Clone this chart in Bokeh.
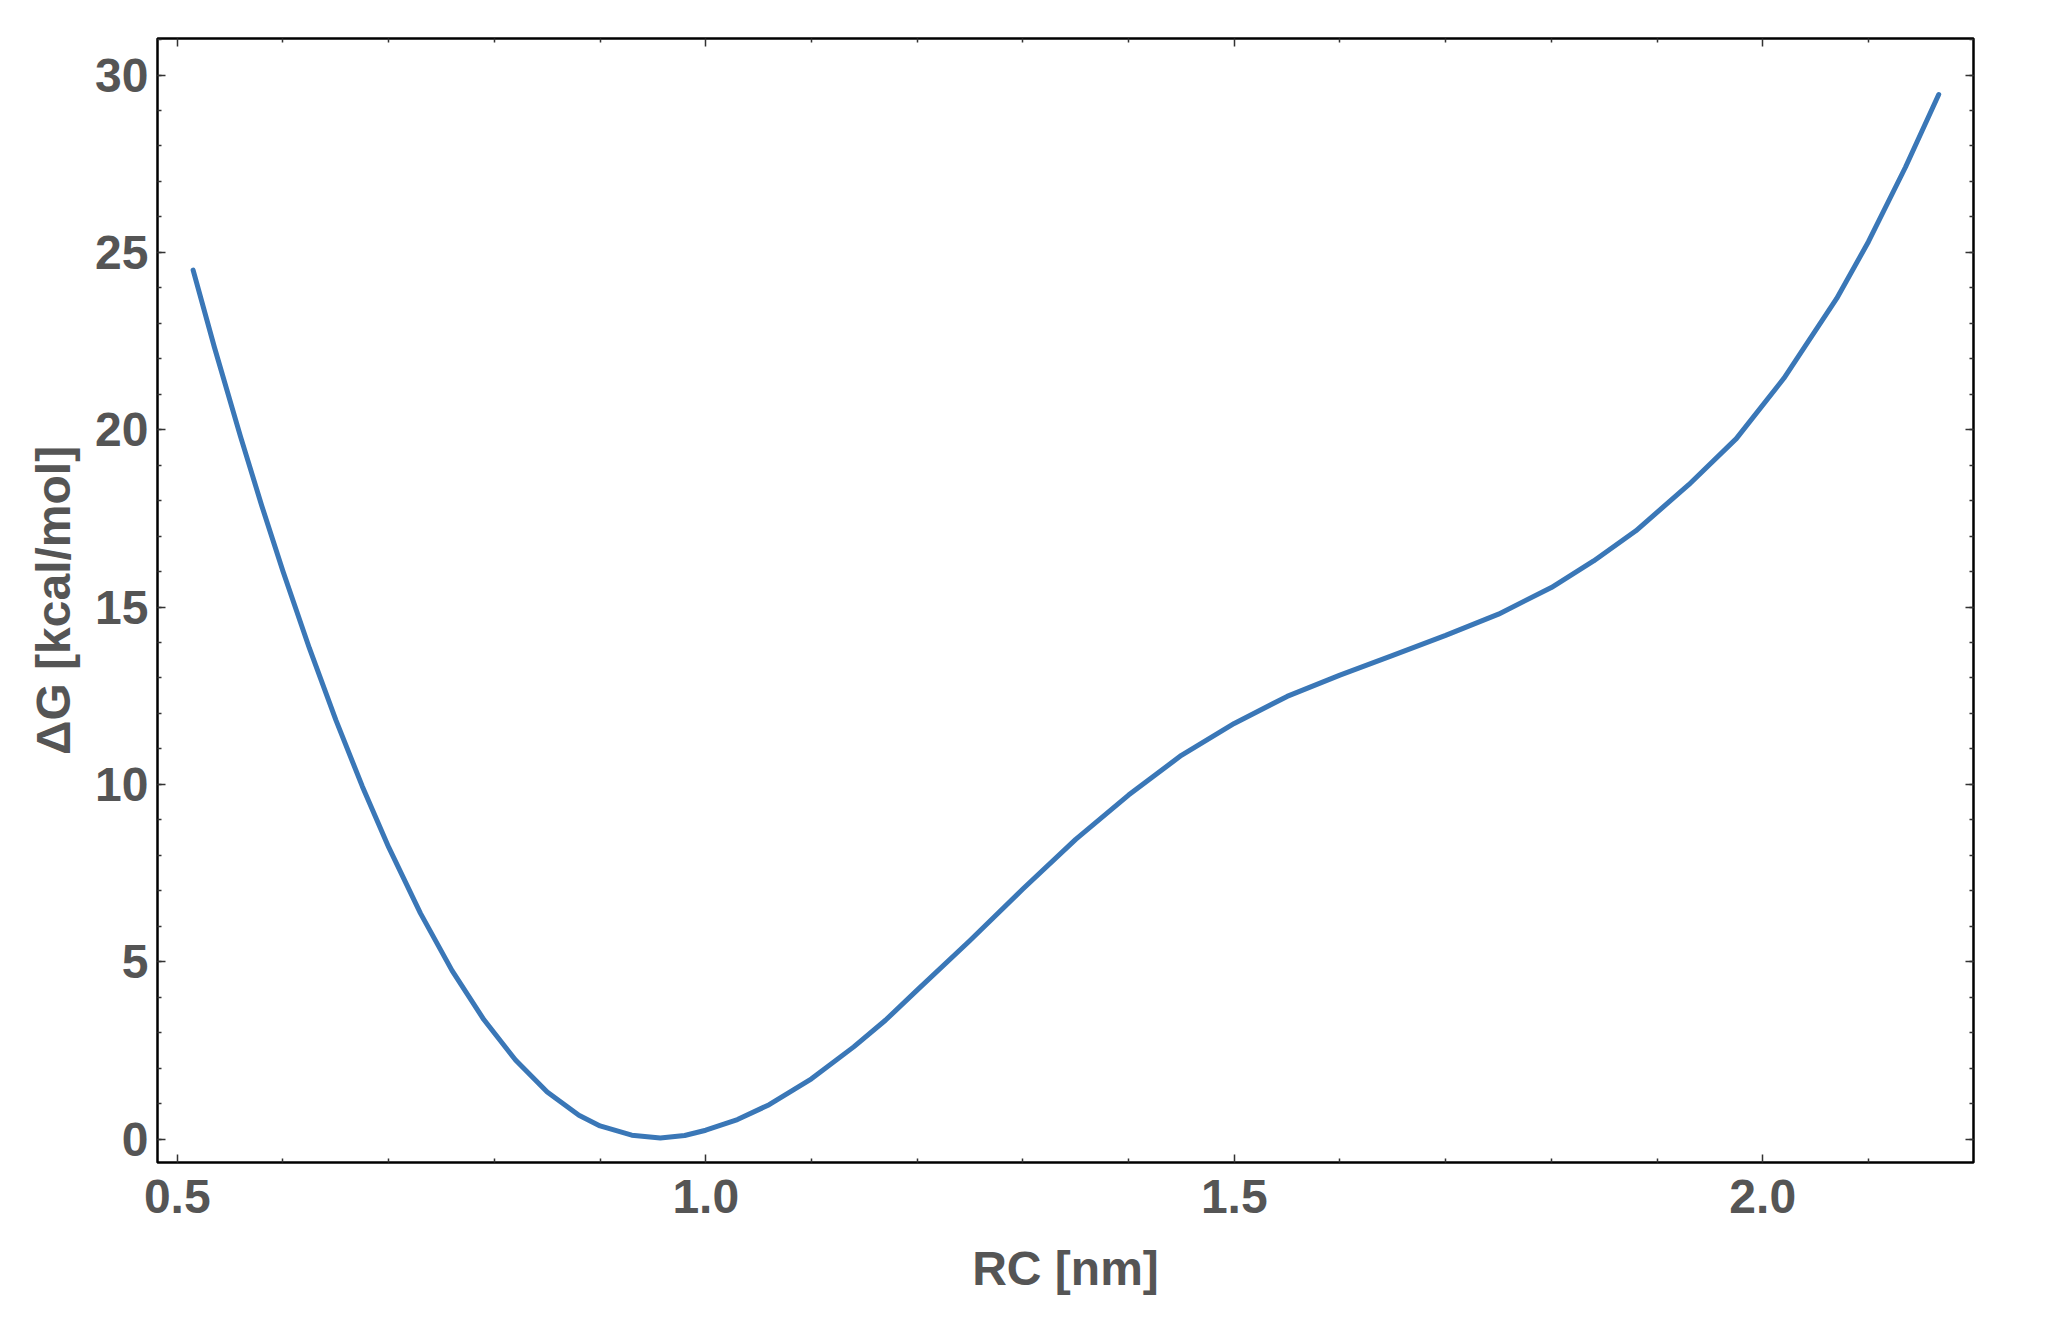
from bokeh.plotting import figure
from bokeh.models import FixedTicker, PrintfTickFormatter, LinearAxis, Range1d, CustomJSTickFormatter
from bokeh.embed import file_html
from bokeh.resources import INLINE

# ---- data ----
rc = [0.515, 0.535, 0.56, 0.58, 0.60, 0.625, 0.65, 0.675, 0.70, 0.73, 0.76, 0.79,
      0.82, 0.85, 0.88, 0.90, 0.93, 0.957, 0.98, 1.00, 1.03, 1.06, 1.10, 1.14,
      1.17, 1.20, 1.25, 1.30, 1.35, 1.40, 1.45, 1.50, 1.55, 1.60, 1.65, 1.70,
      1.75, 1.80, 1.84, 1.88, 1.93, 1.975, 2.02, 2.07, 2.10, 2.135, 2.1665]
dg = [24.5, 22.34, 19.79, 17.85, 16.01, 13.84, 11.82, 9.95, 8.23, 6.37, 4.75, 3.37,
      2.23, 1.33, 0.67, 0.37, 0.11, 0.03, 0.1, 0.25, 0.55, 0.97, 1.7, 2.6,
      3.35, 4.2, 5.6, 7.05, 8.45, 9.7, 10.82, 11.72, 12.48, 13.08, 13.64, 14.2,
      14.8, 15.55, 16.3, 17.15, 18.45, 19.75, 21.45, 23.7, 25.3, 27.4, 29.45]

x_major = [0.5, 1.0, 1.5, 2.0]
x_minor = [0.6, 0.7, 0.8, 0.9, 1.1, 1.2, 1.3, 1.4, 1.6, 1.7, 1.8, 1.9, 2.1]
y_major = [0, 5, 10, 15, 20, 25, 30]
y_minor = list(range(0, 32))

x_label = "RC [nm]"
y_label = "ΔG [kcal/mol]"

FONT = "Liberation Sans"
TXT = "#555555"

p = figure(frame_width=1816, frame_height=1124,
           x_range=Range1d(0.4813, 2.1994), y_range=Range1d(-0.66, 31.03),
           output_backend="svg", toolbar_location=None,
           min_border_left=157, min_border_right=50,
           min_border_top=38, min_border_bottom=130,
           background_fill_color="white", border_fill_color="white")
p.grid.visible = False
p.outline_line_color = "black"
p.outline_line_width = 2.5

p.line(rc, dg, line_color="#3a77b7", line_width=5, line_join="round", line_cap="round")

xt = FixedTicker(ticks=x_major, minor_ticks=x_minor)
yt = FixedTicker(ticks=y_major, minor_ticks=y_minor)

def style(ax, ticker):
    ax.ticker = ticker
    ax.axis_line_color = None
    ax.major_tick_in = 8
    ax.major_tick_out = 0
    ax.minor_tick_in = 4
    ax.minor_tick_out = 0
    ax.major_tick_line_color = "#333333"
    ax.minor_tick_line_color = "#333333"
    ax.major_tick_line_width = 1.5
    ax.minor_tick_line_width = 1.5
    ax.major_label_text_font = FONT
    ax.major_label_text_font_style = "bold"
    ax.major_label_text_font_size = "48px"
    ax.major_label_text_color = TXT
    ax.axis_label_text_font = FONT
    ax.axis_label_text_font_style = "bold"
    ax.axis_label_text_font_size = "48px"
    ax.axis_label_text_color = TXT

xa = p.xaxis[0]
style(xa, xt)
xa.formatter = PrintfTickFormatter(format="%.1f")
xa.major_label_standoff = 17
xa.axis_label = x_label
xa.axis_label_standoff = 26

ya = p.yaxis[0]
style(ya, yt)
ya.formatter = PrintfTickFormatter(format="%d")
ya.major_label_standoff = 9
ya.axis_label = y_label
ya.axis_label_standoff = 12

top = LinearAxis()
style(top, FixedTicker(ticks=x_major, minor_ticks=x_minor))
top.formatter = CustomJSTickFormatter(code="return ''")
top.major_label_text_font_size = "1px"
p.add_layout(top, "above")

right = LinearAxis()
style(right, FixedTicker(ticks=y_major, minor_ticks=y_minor))
right.formatter = CustomJSTickFormatter(code="return ''")
right.major_label_text_font_size = "1px"
p.add_layout(right, "right")

open("out.html", "w").write(file_html(p, INLINE))
